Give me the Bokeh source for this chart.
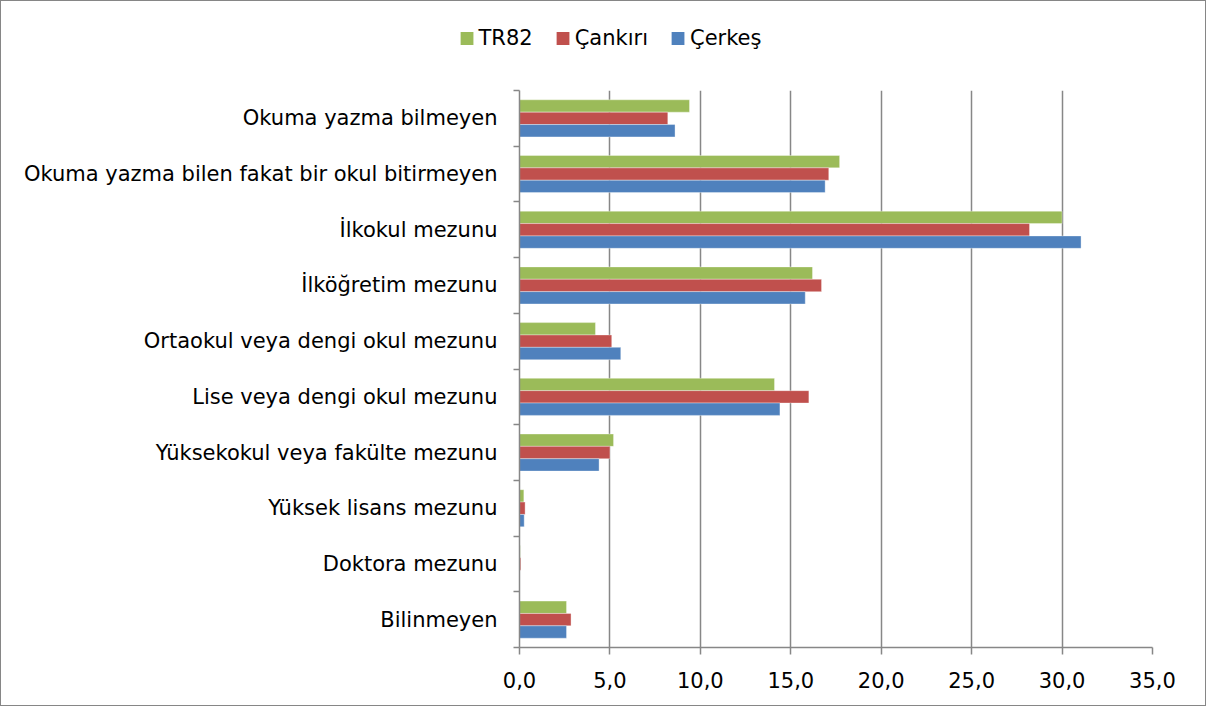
from bokeh.plotting import figure
from bokeh.layouts import column
from bokeh.models import ColumnDataSource, Range1d, FixedTicker, CustomJSTickFormatter, Legend, LegendItem
from bokeh.transform import dodge
from bokeh.embed import file_html
from bokeh.resources import INLINE

categories = [
    "Okuma yazma bilmeyen",
    "Okuma yazma bilen fakat bir okul bitirmeyen",
    "İlkokul mezunu",
    "İlköğretim mezunu",
    "Ortaokul veya dengi okul mezunu",
    "Lise veya dengi okul mezunu",
    "Yüksekokul veya fakülte mezunu",
    "Yüksek lisans mezunu",
    "Doktora mezunu",
    "Bilinmeyen",
]
tr82 = [9.4, 17.7, 30.0, 16.2, 4.2, 14.1, 5.2, 0.24, 0.04, 2.6]
cankiri = [8.2, 17.1, 28.2, 16.7, 5.1, 16.0, 5.0, 0.31, 0.07, 2.85]
cerkes = [8.6, 16.9, 31.05, 15.8, 5.6, 14.4, 4.4, 0.26, 0.02, 2.6]
x_ticks = [0, 5, 10, 15, 20, 25, 30, 35]

series_names = ["TR82", "Çankırı", "Çerkeş"]
series_fields = ["tr82", "cankiri", "cerkes"]
colors = ["#9BBB59", "#C0504D", "#4F81BD"]

FONT = "DejaVu Sans"
FS = "21px"
GRAY = "#878787"
W = 1204

centers = [i + 0.5 for i in range(len(categories))]
bounds = [float(i) for i in range(len(categories) + 1)]

src = ColumnDataSource(data=dict(y=centers, tr82=tr82, cankiri=cankiri, cerkes=cerkes))

# ---- main chart ----
p = figure(
    width=W, height=630,
    x_range=Range1d(0, 35), y_range=Range1d(len(categories), 0),
    output_backend="svg", toolbar_location=None,
    min_border_left=518, min_border_right=53, min_border_top=15, min_border_bottom=58,
)
p.frame_align = False
p.outline_line_color = None

bh = 0.222
offsets = [-bh, 0.0, bh]
for f, c, off in zip(series_fields, colors, offsets):
    p.hbar(y=dodge("y", off, range=None), right=f, height=bh, left=0, source=src,
           fill_color=c, line_color="white", line_alpha=0.35, line_width=1)

p.xaxis.ticker = FixedTicker(ticks=x_ticks)
p.xaxis.formatter = CustomJSTickFormatter(code="return tick.toFixed(1).replace('.', ',');")
p.xaxis.axis_line_color = GRAY
p.xaxis.axis_line_width = 1.5
p.xaxis.major_tick_line_color = GRAY
p.xaxis.major_tick_line_width = 1.5
p.xaxis.major_tick_in = 0
p.xaxis.major_tick_out = 7
p.xaxis.minor_tick_line_color = None
p.xaxis.major_label_text_font = FONT
p.xaxis.major_label_text_font_size = FS
p.xaxis.major_label_text_color = "black"
p.xaxis.major_label_standoff = 17

p.yaxis.ticker = FixedTicker(ticks=centers, minor_ticks=bounds)
p.yaxis.major_label_overrides = {c: name for c, name in zip(centers, categories)}
p.yaxis.axis_line_color = GRAY
p.yaxis.axis_line_width = 1.5
p.yaxis.major_tick_line_color = None
p.yaxis.minor_tick_line_color = GRAY
p.yaxis.minor_tick_line_width = 1.5
p.yaxis.minor_tick_in = 0
p.yaxis.minor_tick_out = 6
p.yaxis.major_tick_out = 6
p.yaxis.major_label_text_font = FONT
p.yaxis.major_label_text_font_size = FS
p.yaxis.major_label_text_color = "black"
p.yaxis.major_label_standoff = 16

p.xgrid.ticker = FixedTicker(ticks=x_ticks)
p.xgrid.grid_line_color = GRAY
p.xgrid.grid_line_width = 1.5
p.ygrid.grid_line_color = None

# ---- legend strip ----
lg = figure(
    width=W, height=74, x_range=Range1d(0, 1), y_range=Range1d(0, 1),
    x_axis_type=None, y_axis_type=None, output_backend="svg", toolbar_location=None,
    min_border=0, min_border_left=14,
)
lg.frame_align = False
lg.outline_line_color = None
lg.xgrid.visible = False
lg.ygrid.visible = False
hidden = ColumnDataSource(data=dict(y=[-5.0], right=[1.0]))
items = []
for name, c in zip(series_names, colors):
    r = lg.hbar(y="y", right="right", height=0.1, source=hidden, fill_color=c, line_color=None)
    items.append(LegendItem(label=name, renderers=[r]))

legend = Legend(
    items=items, orientation="horizontal", location="center",
    label_text_font=FONT, label_text_font_size=FS, label_text_color="black",
    glyph_width=16, glyph_height=16, label_standoff=4, spacing=22,
    padding=0, margin=0, border_line_color=None, background_fill_alpha=0,
)
lg.add_layout(legend, "center")

layout = column(lg, p, spacing=0)
layout.styles = {"border": "1px solid #868686"}

open("out.html", "w").write(file_html(layout, INLINE))
